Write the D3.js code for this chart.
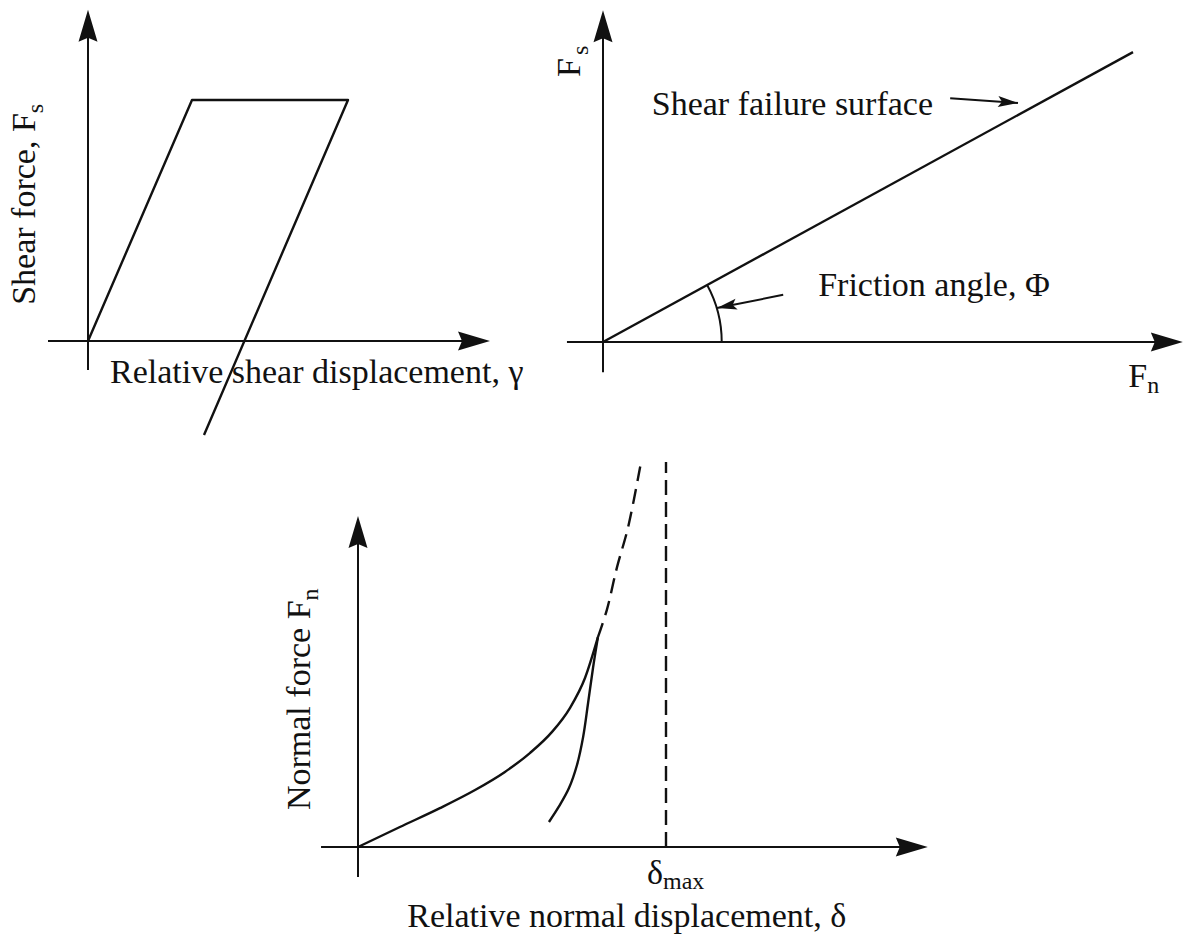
<!DOCTYPE html>
<html>
<head>
<meta charset="utf-8">
<script src="https://cdnjs.cloudflare.com/ajax/libs/d3/7.8.5/d3.min.js"></script>
<style>
body{margin:0;background:#fff;}
svg{display:block;}
text{font-family:"Liberation Serif","Times New Roman",serif;font-size:34px;fill:#111;}
</style>
</head>
<body>
<svg id="chart" width="1183" height="935"></svg>
<script>
// panel 1 - shear force vs relative shear displacement
var shearDisp = [0, 2.6, 6.5, 2.9];
var shearForce = [0, 10, 10, -3.9];
var shearAxisX = [-1, 10.05];
var shearAxisY = [-1.2, 13.75];

// panel 2 - shear failure surface (Coulomb)
var normalForce = [0, 10];
var failureShear = [0, 5.47];
var frictionAxisX = [-0.68, 10.94];
var frictionAxisY = [-0.57, 6.26];
var arcRadius = 2.24;

// panel 3 - normal force vs relative normal displacement
var loadDelta = [0, 0.136, 0.266, 0.380, 0.477, 0.558, 0.630, 0.688, 0.737, 0.779];
var loadForce = [0, 0.52, 1.01, 1.48, 1.95, 2.44, 2.99, 3.61, 4.39, 5.45];
var extDelta = [0.779, 0.808, 0.841, 0.877, 0.919];
var extForce = [5.45, 6.16, 7.27, 8.31, 10];
var unloadDelta = [0.779, 0.763, 0.747, 0.731, 0.711, 0.685, 0.653, 0.620];
var unloadForce = [5.45, 4.65, 3.74, 2.86, 2.13, 1.53, 1.06, 0.65];
var deltaMax = 1;
var deltaMaxTop = 10;
var normalAxisX = [-0.12, 1.85];
var normalAxisY = [-0.78, 8.6];

var svg = d3.select("#chart");
var ink = "#111";

var zip = function(a, b){
    return a.map(function(v, i){ return [v, b[i]]; });
};

// filled arrow head, tip at (x,y), pointing along angle (deg)
var arrowHead = function(g, x, y, angle, len, hw){
    g.append("path")
        .attr("d", "M0,0L" + (-len) + "," + (-hw) + "L" + (-len + 4) + ",0L" + (-len) + "," + hw + "Z")
        .attr("transform", "translate(" + [x, y] + ") rotate(" + angle + ")")
        .attr("fill", ink);
};

var drawAxes = function(g, sx, sy, ax, ay){
    var len = 32, hw = 9.5;
    g.append("line")
        .attr("x1", sx(ax[0])).attr("x2", sx(ax[1]) - len + 6)
        .attr("y1", sy(0)).attr("y2", sy(0))
        .attr("stroke", ink).attr("stroke-width", 2);
    arrowHead(g, sx(ax[1]), sy(0), 0, len, hw);
    g.append("line")
        .attr("x1", sx(0)).attr("x2", sx(0))
        .attr("y1", sy(ay[0])).attr("y2", sy(ay[1]) + len - 6)
        .attr("stroke", ink).attr("stroke-width", 2);
    arrowHead(g, sx(0), sy(ay[1]), -90, len, hw);
};

var curve = function(g, sx, sy, pts, kind, dash){
    var line = d3.line()
        .x(function(d){ return sx(d[0]); })
        .y(function(d){ return sy(d[1]); })
        .curve(kind || d3.curveLinear);
    var p = g.append("path")
        .attr("d", line(pts))
        .attr("fill", "none")
        .attr("stroke", ink)
        .attr("stroke-width", 2.4)
        .attr("stroke-linejoin", "round");
    if(dash) p.attr("stroke-dasharray", dash);
    return p;
};

// ---------- panel 1 ----------
var p1x = d3.scaleLinear().domain([0, 10]).range([88, 488]);
var p1y = d3.scaleLinear().domain([0, 10]).range([341, 100]);
var g1 = svg.append("g");
drawAxes(g1, p1x, p1y, shearAxisX, shearAxisY);
curve(g1, p1x, p1y, zip(shearDisp, shearForce));

g1.append("text")
    .attr("x", p1x(0.55)).attr("y", p1y(-1.74))
    .text("Relative shear displacement, \u03b3");
var yl1 = g1.append("text")
    .attr("transform", "translate(" + [35, p1y(1.5)] + ") rotate(-90)");
yl1.append("tspan").text("Shear force, F");
yl1.append("tspan").attr("dy", 8).style("font-size", "24px").text("s");

// ---------- panel 2 ----------
var p2x = d3.scaleLinear().domain([0, 10]).range([603, 1133]);
var p2y = d3.scaleLinear().domain([0, 10]).range([342, -188]);
var g2 = svg.append("g");
drawAxes(g2, p2x, p2y, frictionAxisX, frictionAxisY);
curve(g2, p2x, p2y, zip(normalForce, failureShear));

// friction angle arc
var theta = Math.atan2(failureShear[1], normalForce[1]);
var r = p2x(arcRadius) - p2x(0);
var arc = d3.path();
arc.moveTo(p2x(0) + r * Math.cos(theta), p2y(0) - r * Math.sin(theta));
arc.arc(p2x(0), p2y(0), r, -theta, 0, false);
g2.append("path").attr("d", arc.toString())
    .attr("fill", "none").attr("stroke", ink).attr("stroke-width", 2);

// small pointer arrows
var pointer = function(x1, y1, x2, y2){
    var a = Math.atan2(p2y(y2) - p2y(y1), p2x(x2) - p2x(x1)) * 180 / Math.PI;
    g2.append("line")
        .attr("x1", p2x(x1)).attr("y1", p2y(y1))
        .attr("x2", p2x(x2)).attr("y2", p2y(y2))
        .attr("stroke", ink).attr("stroke-width", 2);
    arrowHead(g2, p2x(x2), p2y(y2), a, 20, 5.5);
};
pointer(6.55, 4.60, 7.83, 4.51);
pointer(3.40, 0.89, 2.15, 0.64);

g2.append("text").attr("x", p2x(0.92)).attr("y", p2y(4.28)).text("Shear failure surface");
g2.append("text").attr("x", p2x(4.06)).attr("y", p2y(0.87)).text("Friction angle, \u03a6");
var fn2 = g2.append("text").attr("x", p2x(9.91)).attr("y", p2y(-0.85));
fn2.append("tspan").text("F");
fn2.append("tspan").attr("dy", 6).style("font-size", "24px").text("n");
var fs2 = g2.append("text")
    .attr("transform", "translate(" + [p2x(-0.43), p2y(5.0)] + ") rotate(-90)");
fs2.append("tspan").text("F");
fs2.append("tspan").attr("dx", 3).attr("dy", 8).style("font-size", "24px").text("s");

// ---------- panel 3 ----------
var p3x = d3.scaleLinear().domain([0, 1]).range([358, 666]);
var p3y = d3.scaleLinear().domain([0, 10]).range([847, 462]);
var g3 = svg.append("g");
drawAxes(g3, p3x, p3y, normalAxisX, normalAxisY);
curve(g3, p3x, p3y, zip(loadDelta, loadForce), d3.curveMonotoneX);
curve(g3, p3x, p3y, zip(extDelta, extForce), d3.curveCatmullRom, "15,8");
curve(g3, p3x, p3y, zip(unloadDelta, unloadForce), d3.curveCatmullRom);
curve(g3, p3x, p3y, [[deltaMax, 0], [deltaMax, deltaMaxTop]], null, "15,7");

var dm = g3.append("text").attr("x", p3x(deltaMax) - 19).attr("y", p3y(-0.96));
dm.append("tspan").text("\u03b4");
dm.append("tspan").attr("dy", 5).style("font-size", "24px").text("max");
g3.append("text").attr("x", p3x(0.16)).attr("y", p3y(-2.08))
    .text("Relative normal displacement, \u03b4");
var yl3 = g3.append("text")
    .attr("transform", "translate(" + [310, p3y(0.96)] + ") rotate(-90)");
yl3.append("tspan").text("Normal force F");
yl3.append("tspan").attr("dy", 8).style("font-size", "24px").text("n");
</script>
</body>
</html>
